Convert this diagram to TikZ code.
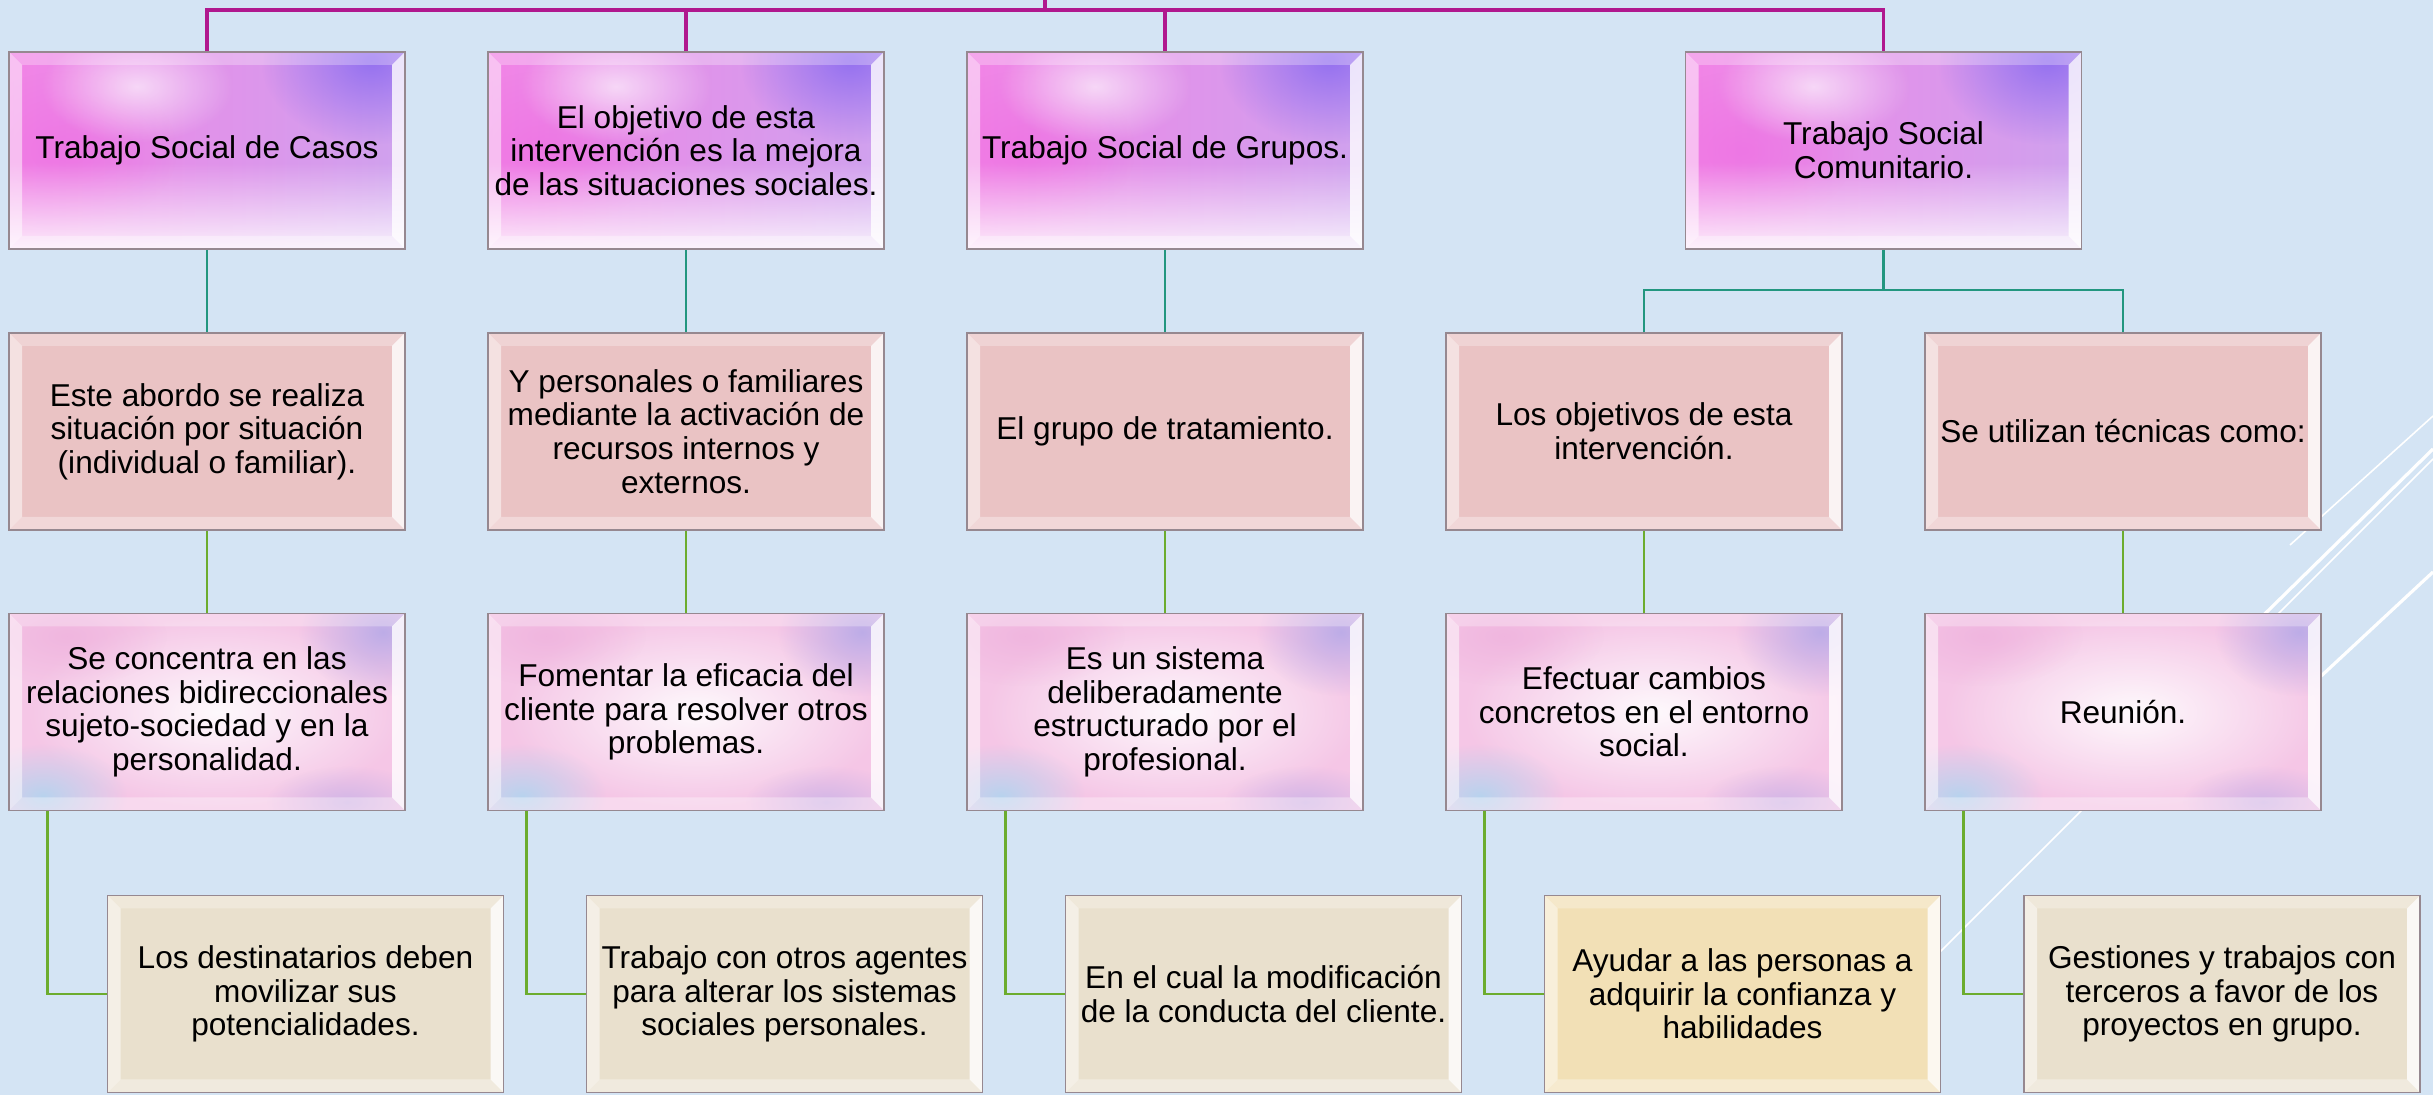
\documentclass[tikz,border=0pt]{standalone}
\usepackage{fontspec}
\setmainfont{Liberation Sans}
\usetikzlibrary{fadings}
\tikzfading[name=softblob, inner color=transparent!0, outer color=transparent!100]
\definecolor{bgblue}{HTML}{D4E4F4}
\definecolor{boxedge}{HTML}{968890}
\definecolor{magline}{HTML}{B0188E}
\definecolor{tealc}{HTML}{22967F}
\definecolor{grnc}{HTML}{6CAC2E}
\definecolor{pinkA}{HTML}{F283E6}
\definecolor{lavA}{HTML}{CFA2EE}
\definecolor{magA}{HTML}{EE6CE2}
\definecolor{purA}{HTML}{8E6CF0}
\definecolor{salmonB}{HTML}{EAC3C4}
\definecolor{pinkC}{HTML}{F5C6E6}
\definecolor{lavC}{HTML}{AFA6E8}
\definecolor{blueC}{HTML}{A9D6F0}
\definecolor{rosC}{HTML}{EBA6D8}
\definecolor{beigeD}{HTML}{E9E0CD}
\definecolor{sandE}{HTML}{F2E0B6}
\newcommand\boxfont{\fontsize{15.8}{16.8}\selectfont}
\newcommand\dobevel{%
 \coordinate (Q) at (path picture bounding box.center);
 \fill[white,opacity=0.28] ([shift={(-99pt,49.25pt)}]Q) -- ([shift={(99pt,49.25pt)}]Q) -- ([shift={(92.5pt,42.75pt)}]Q) -- ([shift={(-92.5pt,42.75pt)}]Q) -- cycle;
 \fill[white,opacity=0.5] ([shift={(-99pt,49.25pt)}]Q) -- ([shift={(-92.5pt,42.75pt)}]Q) -- ([shift={(-92.5pt,-42.75pt)}]Q) -- ([shift={(-99pt,-49.25pt)}]Q) -- cycle;
 \fill[white,opacity=0.8] ([shift={(99pt,49.25pt)}]Q) -- ([shift={(92.5pt,42.75pt)}]Q) -- ([shift={(92.5pt,-42.75pt)}]Q) -- ([shift={(99pt,-49.25pt)}]Q) -- cycle;
 \fill[white,opacity=0.35] ([shift={(-99pt,-49.25pt)}]Q) -- ([shift={(-92.5pt,-42.75pt)}]Q) -- ([shift={(92.5pt,-42.75pt)}]Q) -- ([shift={(99pt,-49.25pt)}]Q) -- cycle;
}
\newcommand\fillA{%
 \coordinate (Q) at (path picture bounding box.center);
 \shade[left color=pinkA, right color=lavA] ([shift={(-100pt,-50pt)}]Q) rectangle ([shift={(100pt,50pt)}]Q);
 \fill[magA, opacity=0.6, path fading=softblob] ([shift={(-70pt,0pt)}]Q) ellipse (55pt and 40pt);
 \fill[white, opacity=0.65, path fading=softblob] ([shift={(-35pt,32pt)}]Q) ellipse (48pt and 28pt);
 \fill[purA, opacity=0.9, path fading=softblob] ([shift={(82pt,45pt)}]Q) ellipse (55pt and 42pt);
 \fill[white, opacity=0.85, path fading=north] ([shift={(-100pt,-50pt)}]Q) rectangle ([shift={(100pt,-6pt)}]Q);
}
\newcommand\fillB{%
 \fill[salmonB] (path picture bounding box.south west) rectangle (path picture bounding box.north east);
}
\newcommand\fillC{%
 \coordinate (Q) at (path picture bounding box.center);
 \fill[pinkC] ([shift={(-100pt,-50pt)}]Q) rectangle ([shift={(100pt,50pt)}]Q);
 \fill[white, opacity=0.9, path fading=softblob] ([shift={(5pt,0pt)}]Q) ellipse (95pt and 48pt);
 \fill[rosC, opacity=0.5, path fading=softblob] ([shift={(-70pt,38pt)}]Q) ellipse (50pt and 25pt);
 \fill[lavC, opacity=0.8, path fading=softblob] ([shift={(88pt,40pt)}]Q) ellipse (42pt and 32pt);
 \fill[blueC, opacity=0.8, path fading=softblob] ([shift={(-82pt,-42pt)}]Q) ellipse (42pt and 26pt);
 \fill[lavC, opacity=0.5, path fading=softblob] ([shift={(70pt,-45pt)}]Q) ellipse (40pt and 18pt);
}
\newcommand\fillD{%
 \fill[beigeD] (path picture bounding box.south west) rectangle (path picture bounding box.north east);
}
\newcommand\fillE{%
 \fill[sandE] (path picture bounding box.south west) rectangle (path picture bounding box.north east);
}
\tikzset{
 basebox/.style={draw=boxedge, line width=0.9pt, minimum width=198pt, minimum height=98.5pt, inner sep=0pt, align=center, font=\boxfont, text=black},
 boxA/.style={basebox, path picture={\fillA\dobevel}},
 boxB/.style={basebox, path picture={\fillB\dobevel}},
 boxC/.style={basebox, path picture={\fillC\dobevel}},
 boxD/.style={basebox, path picture={\fillD\dobevel}},
 boxE/.style={basebox, path picture={\fillE\dobevel}},
 magconn/.style={draw=magline, line width=1.6pt},
 tealconn/.style={draw=tealc, line width=1.3pt},
 grnconn/.style={draw=grnc, line width=1.4pt},
 decoline/.style={draw=white, line width=#1},
}
\begin{document}
\begin{tikzpicture}[x=0.5pt,y=-0.5pt]
\useasboundingbox (0,0) rectangle (2433,1095);
\fill[bgblue] (0,0) rectangle (2433,1095);
% decorative diagonal lines
\draw[decoline=0.8pt] (1860,1032) -- (2433,459);
\draw[decoline=1.6pt] (2230,648) -- (2433,449);
\draw[decoline=0.8pt] (2290,545) -- (2433,416);
\draw[decoline=1.6pt] (2290,705) -- (2433,572);
% row 1
\node[boxA] (r1c1) at (207,150.5) {Trabajo Social de Casos};
\node[boxA] (r1c2) at (686,150.5) {El objetivo de esta\\intervención es la mejora\\de las situaciones sociales.};
\node[boxA] (r1c3) at (1165,150.5) {Trabajo Social de Grupos.};
\node[boxA] (r1c4) at (1883.5,150.5) {Trabajo Social\\Comunitario.};
% row 2
\node[boxB] (r2c1) at (207,431.5) {Este abordo se realiza\\situación por situación\\(individual o familiar).};
\node[boxB] (r2c2) at (686,431.5) {Y personales o familiares\\mediante la activación de\\recursos internos y\\externos.};
\node[boxB] (r2c3) at (1165,431.5) {El grupo de tratamiento.};
\node[boxB] (r2c4) at (1644,431.5) {Los objetivos de esta\\intervención.};
\node[boxB] (r2c5) at (2123,431.5) {Se utilizan técnicas como:};
% row 3
\node[boxC] (r3c1) at (207,712) {Se concentra en las\\relaciones bidireccionales\\sujeto-sociedad y en la\\personalidad.};
\node[boxC] (r3c2) at (686,712) {Fomentar la eficacia del\\cliente para resolver otros\\problemas.};
\node[boxC] (r3c3) at (1165,712) {Es un sistema\\deliberadamente\\estructurado por el\\profesional.};
\node[boxC] (r3c4) at (1644,712) {Efectuar cambios\\concretos en el entorno\\social.};
\node[boxC] (r3c5) at (2123,712) {Reunión.};
% row 4
\node[boxD] (r4c1) at (305.5,994) {Los destinatarios deben\\movilizar sus\\potencialidades.};
\node[boxD] (r4c2) at (784.5,994) {Trabajo con otros agentes\\para alterar los sistemas\\sociales personales.};
\node[boxD] (r4c3) at (1263.5,994) {En el cual la modificación\\de la conducta del cliente.};
\node[boxE] (r4c4) at (1742.5,994) {Ayudar a las personas a\\adquirir la confianza y\\habilidades};
\node[boxD] (r4c5) at (2222,994) {Gestiones y trabajos con\\terceros a favor de los\\proyectos en grupo.};
% connectors
\coordinate (topbar) at (1045,10);
\coordinate (topstub) at (1045,0);
\coordinate (split) at (1883.5,290);
\draw[magconn] (r1c1.north) |- (topbar) -| (r1c4.north);
\draw[magconn] (r1c2.north) -- (r1c2.north |- topbar);
\draw[magconn] (r1c3.north) -- (r1c3.north |- topbar);
\draw[magconn] (topstub) -- (topbar);
\draw[tealconn] (r1c1.south) -- (r2c1.north);
\draw[tealconn] (r1c2.south) -- (r2c2.north);
\draw[tealconn] (r1c3.south) -- (r2c3.north);
\draw[tealconn] (r1c4.south) -- (split);
\draw[tealconn] (r2c4.north) |- (split) -| (r2c5.north);
\foreach \c in {c1,c2,c3,c4,c5}{
 \draw[grnconn] (r2\c.south) -- (r3\c.north);
 \draw[grnconn] ([xshift=19.5pt]r3\c.south west) |- (r4\c.west);
}
\end{tikzpicture}
\end{document}
